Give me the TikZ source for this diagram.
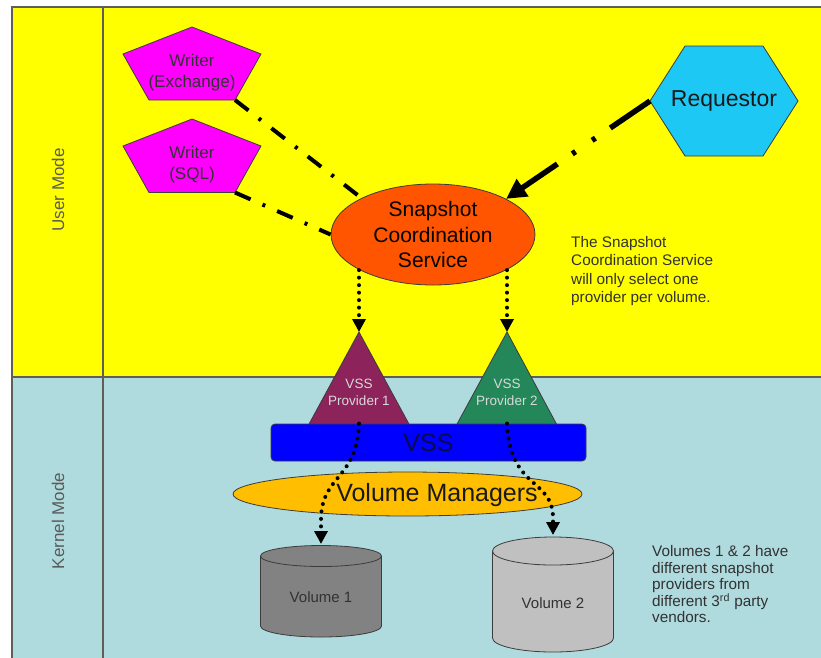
\documentclass[tikz,border=0pt]{standalone}
\usepackage{fontspec}
\setmainfont{Liberation Sans}
\usetikzlibrary{arrows.meta,shapes.geometric,calc,backgrounds}
\definecolor{usermode}{RGB}{255,255,0}
\definecolor{kernelmode}{RGB}{175,218,222}
\definecolor{writerpink}{RGB}{255,0,255}
\definecolor{reqcyan}{RGB}{30,200,245}
\definecolor{scsorange}{RGB}{255,85,0}
\definecolor{provone}{RGB}{140,35,90}
\definecolor{provtwo}{RGB}{35,135,90}
\definecolor{vssblue}{RGB}{0,0,255}
\definecolor{vssnavy}{RGB}{10,10,80}
\definecolor{vmorange}{RGB}{255,190,0}
\definecolor{volone}{RGB}{130,130,130}
\definecolor{voltwo}{RGB}{192,192,192}
\definecolor{shapeedge}{RGB}{60,60,60}
\definecolor{frameedge}{RGB}{95,95,90}
\definecolor{textgray}{RGB}{50,50,50}
\tikzset{
  frame/.style={draw=frameedge, line width=1.5pt},
  outline/.style={draw=shapeedge, line width=0.8pt},
  modelabel/.style={rotate=90, inner sep=0pt, text=textgray!80, font=\fontsize{17}{20}\selectfont},
  writerlabel/.style={align=center, inner sep=0pt, text=textgray, font=\fontsize{17}{21}\selectfont},
  reqlabel/.style={inner sep=0pt, text=black!90, font=\fontsize{23}{27}\selectfont},
  coordsvc/.style={ellipse, outline, fill=scsorange, align=center, inner sep=0pt, minimum width=204pt, minimum height=101pt, font=\fontsize{21}{25.5}\selectfont},
  provlabel/.style={align=center, inner sep=0pt, text=white!85!black, font=\fontsize{13.5}{17}\selectfont},
  vssbar/.style={rectangle, rounded corners=4pt, outline, fill=vssblue, text=vssnavy, minimum width=315pt, minimum height=37pt, inner sep=0pt, font=\fontsize{25}{30}\selectfont},
  volmgr/.style={ellipse, outline, fill=vmorange, minimum width=349pt, minimum height=44pt, inner sep=0pt},
  vmlabel/.style={inner sep=0pt, text=black!90, font=\fontsize{25}{30}\selectfont},
  vollabel/.style={inner sep=0pt, text=textgray, font=\fontsize{15}{18}\selectfont},
  notelabel/.style={align=left, inner sep=0pt, text=textgray, font=\fontsize{15.3}{18.3}\selectfont},
  dashdot/.style={line width=4pt, dash pattern=on 17pt off 13pt on 3pt off 13pt},
  reqarrow/.style={line width=5.5pt, dash pattern=on 48pt off 18pt on 4pt off 20pt on 4pt off 18pt, -{Triangle[length=20pt,width=20pt]}},
  dotarrow/.style={line width=4pt, line cap=round, dash pattern=on 0pt off 7.5pt, -{Triangle[length=13pt,width=13pt]}},
}
\begin{document}
\begin{tikzpicture}[x=1pt, y=-1pt]
  \useasboundingbox (0,0) rectangle (821,657);

  % left column
  \node[modelabel] (user) at (58,190) {User Mode};
  \node[modelabel] (kernel) at (58,521) {Kernel Mode};

  % user mode
  \node[writerlabel] (wex) at (192,73) {Writer\\(Exchange)};
  \node[writerlabel] (wsql) at (192,165) {Writer\\(SQL)};
  \node[reqlabel] (req) at (724,101) {Requestor};
  \node[coordsvc] (scs) at (433,234.5) {Snapshot\\Coordination\\Service};
  \node[notelabel, anchor=west] (scsnote) at (571,271) {The Snapshot\\Coordination Service\\will only select one\\provider per volume.};

  % kernel mode
  \node[provlabel] (prov1) at (359,392) {VSS\\Provider 1};
  \node[provlabel] (prov2) at (507,392) {VSS\\Provider 2};
  \node[vssbar] (vss) at (428.5,442.5) {VSS};
  \node[volmgr] (vm) at (407.5,494) {};
  \node[vmlabel] (vmtext) at (437,495) {Volume Managers};
  \node[vollabel] (vol1) at (321,597) {Volume 1};
  \node[vollabel] (vol2) at (553,603) {Volume 2};
  \node[notelabel, font=\fontsize{15.3}{16.5}\selectfont, anchor=west] (volnote) at (652,584.5) {Volumes 1 \& 2 have\\different snapshot\\providers from\\different 3\textsuperscript{rd} party\\vendors.};

  \coordinate (wex-tip) at ($(wex)+(43,27)$);
  \coordinate (wsql-tip) at ($(wsql)+(43,27.5)$);
  \coordinate (req-w) at ($(req)+(-74,0)$);
  \coordinate (prov1-top) at (359,332);
  \coordinate (prov2-top) at (507,332);
  \coordinate (vol1-top) at ($(vol1)+(0,-53)$);
  \coordinate (vol2-top) at ($(vol2)+(0,-68)$);

  \begin{scope}[on background layer]
    \fill[white] (0,0) rectangle (821,657);
    \fill[usermode] (12,7) rectangle (825,377);
    \fill[kernelmode] (12,377) rectangle (825,660);
    \draw[frame] (825,7) -- (12,7) -- (12,660) (12,377) -- (825,377) (103,7) -- (103,660);
    % writers and requestor
    \draw[outline, fill=writerpink] (wex.center) +(0,-46) -- +(69,-19) -- +(43,27) -- +(-43,27) -- +(-69,-19) -- cycle;
    \draw[outline, fill=writerpink] (wsql.center) +(0,-46) -- +(69,-19) -- +(43,27.5) -- +(-43,27.5) -- +(-69,-19) -- cycle;
    \draw[outline, fill=reqcyan] (req.center) +(-74,0) -- +(-39,-55) -- +(39,-55) -- +(74,0) -- +(39,55) -- +(-39,55) -- cycle;
    % providers
    \draw[outline, fill=provone] (prov1-top) -- +(50.5,93) -- +(-50.5,93) -- cycle;
    \draw[outline, fill=provtwo] (prov2-top) -- +(50,93) -- +(-50.5,93) -- cycle;
    % volumes
    \draw[outline, fill=volone] ($(vol1)+(0,29)$) ellipse [x radius=60.5, y radius=11];
    \fill[volone] ($(vol1)+(-60.5,-41)$) rectangle ($(vol1)+(60.5,29)$);
    \draw[outline] ($(vol1)+(-60.5,-41)$) -- ++(0,70) ($(vol1)+(60.5,-41)$) -- ++(0,70);
    \draw[outline, fill=volone] ($(vol1)+(0,-41)$) ellipse [x radius=60.5, y radius=10.5];
    \draw[outline, fill=voltwo] ($(vol2)+(0,35)$) ellipse [x radius=60.5, y radius=14];
    \fill[voltwo] ($(vol2)+(-60.5,-52)$) rectangle ($(vol2)+(60.5,35)$);
    \draw[outline] ($(vol2)+(-60.5,-52)$) -- ++(0,87) ($(vol2)+(60.5,-52)$) -- ++(0,87);
    \draw[outline, fill=voltwo] ($(vol2)+(0,-52)$) ellipse [x radius=60.5, y radius=14];
  \end{scope}

  % connectors
  \draw[dashdot] (wex-tip) -- (scs.153);
  \draw[dashdot] (wsql-tip) -- (scs.180);
  \draw[reqarrow] (req-w) -- (scs.26);
  \draw[dotarrow] (scs.206 -| prov1-top) -- (prov1-top);
  \draw[dotarrow] (scs.334 -| prov2-top) -- (prov2-top);
  \draw[dotarrow] (prov1-top |- vss.north) .. controls (357,480) and (321,475) .. (321,520) -- (vol1-top);
  \draw[dotarrow] (prov2-top |- vss.north) .. controls (510,490) and (553,478) .. (553,518) -- (vol2-top);
\end{tikzpicture}
\end{document}
